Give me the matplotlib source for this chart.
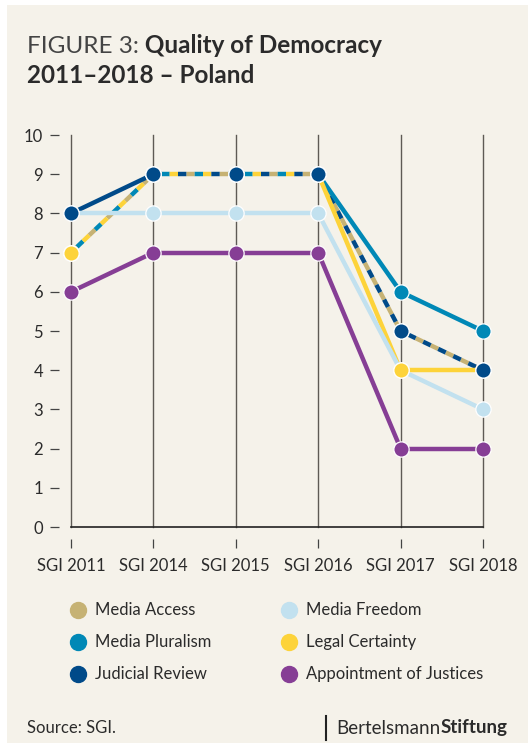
import matplotlib.pyplot as plt
from matplotlib.lines import Line2D
from matplotlib.patches import Rectangle

plt.rcParams['font.family'] = ['Lato', 'DejaVu Sans']
plt.rcParams['lines.scale_dashes'] = False

# Daten
years = ['SGI 2011', 'SGI 2014', 'SGI 2015', 'SGI 2016', 'SGI 2017', 'SGI 2018']
media_access = [7, 9, 9, 9, 5, 4]
media_freedom = [8, 8, 8, 8, 4, 3]
media_pluralism = [7, 9, 9, 9, 6, 5]
legal_certainty = [7, 9, 9, 9, 4, 4]
judicial_review = [8, 9, 9, 9, 5, 4]
appointment = [6, 7, 7, 7, 2, 2]

names = ['Media Access', 'Media Freedom', 'Media Pluralism',
         'Legal Certainty', 'Judicial Review', 'Appointment of Justices']
values = [media_access, media_freedom, media_pluralism,
          legal_certainty, judicial_review, appointment]
colors = ['#c6b274', '#c2e1ef', '#0088b6', '#fdd33a', '#004a89', '#863e95']

W, H = 528, 749
bg = '#f5f2ea'
txt = '#2b2b2b'

def fx(px):
    return px / W

def fy(py):
    return 1 - py / H

fig = plt.figure(figsize=(W / 100, H / 100), dpi=100)
fig.patch.set_facecolor('white')
fig.add_artist(Rectangle((fx(7), fy(743)), fx(521), 738 / H,
                         transform=fig.transFigure, facecolor=bg,
                         edgecolor='none', zorder=-10))

ax = fig.add_axes([fx(71), fy(527), fx(412), 392 / H])
ax.set_facecolor('none')
x = list(range(len(years)))

# senkrechte Linien
for xi in x:
    ax.axvline(xi, color='#5e5a55', lw=1.0, zorder=1, clip_on=False)
ax.axhline(0, color='#222222', lw=1.2, zorder=2, clip_on=False)

# Linien segmentweise, gleiche Segmente gestrichelt abwechselnd
dash = 6
for i in range(len(years) - 1):
    groups = {}
    for k in [0, 2, 3, 4, 1, 5]:
        key = (values[k][i], values[k][i + 1])
        groups.setdefault(key, []).append(k)
    for key, members in groups.items():
        n = len(members)
        for j, k in enumerate(members):
            if n == 1:
                ls = '-'
            else:
                ls = (((n - j) % n) * dash, (dash, (n - 1) * dash))
            ax.plot([x[i], x[i + 1]], list(key), color=colors[k], lw=3.2,
                    linestyle=ls, solid_capstyle='butt',
                    dash_capstyle='butt', zorder=3, clip_on=False)

for k in range(len(names)):
    ax.plot(x, values[k], linestyle='none', marker='o', markersize=11,
            markerfacecolor=colors[k], markeredgecolor='white',
            markeredgewidth=0.9, zorder=4 + k, clip_on=False)

ax.set_xlim(0, 5)
ax.set_ylim(0, 10)
ax.set_xticks(x)
ax.set_xticklabels(years)
ax.set_yticks(range(0, 11))

for s in ['top', 'right']:
    ax.spines[s].set_visible(False)
ax.spines['left'].set_position(('outward', 8.6))
ax.spines['bottom'].set_position(('outward', 8.6))
ax.spines['left'].set_visible(False)
ax.spines['bottom'].set_visible(False)
ax.tick_params(axis='both', direction='out', length=6.5, width=0.9,
               color='#444444', labelsize=12, labelcolor=txt)
ax.tick_params(axis='y', pad=5)
ax.tick_params(axis='x', pad=7)

# Titel
t1 = fig.text(fx(27), fy(53), 'FIGURE 3:', fontsize=17.5, fontweight='normal',
              color='#444444', va='baseline')
fig.canvas.draw()
ax.annotate(' Quality of Democracy', xy=(1, 0), xycoords=t1,
            fontsize=17.5, fontweight='bold', color=txt, va='bottom')
fig.text(fx(27), fy(83), '2011–2018 – Poland', fontsize=17.5,
         fontweight='bold', color=txt, va='baseline')

# Legende
cols = [(78, 95), (289, 306)]
rows = [610, 642, 674]
for k, name in enumerate(names):
    mx, tx = cols[k % 2]
    py = rows[k // 2]
    fig.add_artist(Line2D([fx(mx)], [fy(py)], transform=fig.transFigure,
                          marker='o', markersize=11.5, color=colors[k],
                          linestyle='none'))
    fig.text(fx(tx), fy(py), name, fontsize=12, color=txt, va='center')

# Fußzeile
fig.text(fx(27), fy(728), 'Source: SGI.', fontsize=12, color=txt, va='center')
fig.add_artist(Line2D([fx(326), fx(326)], [fy(716), fy(740)],
                      transform=fig.transFigure, color='#222222', lw=1.5))
b1 = fig.text(fx(336), fy(728), 'Bertelsmann', fontsize=13.5, color=txt,
              va='center')
fig.canvas.draw()
ax.annotate('Stiftung', xy=(1, 0), xycoords=b1, fontsize=13.5,
            fontweight='bold', color=txt, va='bottom')

fig.savefig('out.png', dpi=100, facecolor=fig.get_facecolor())
